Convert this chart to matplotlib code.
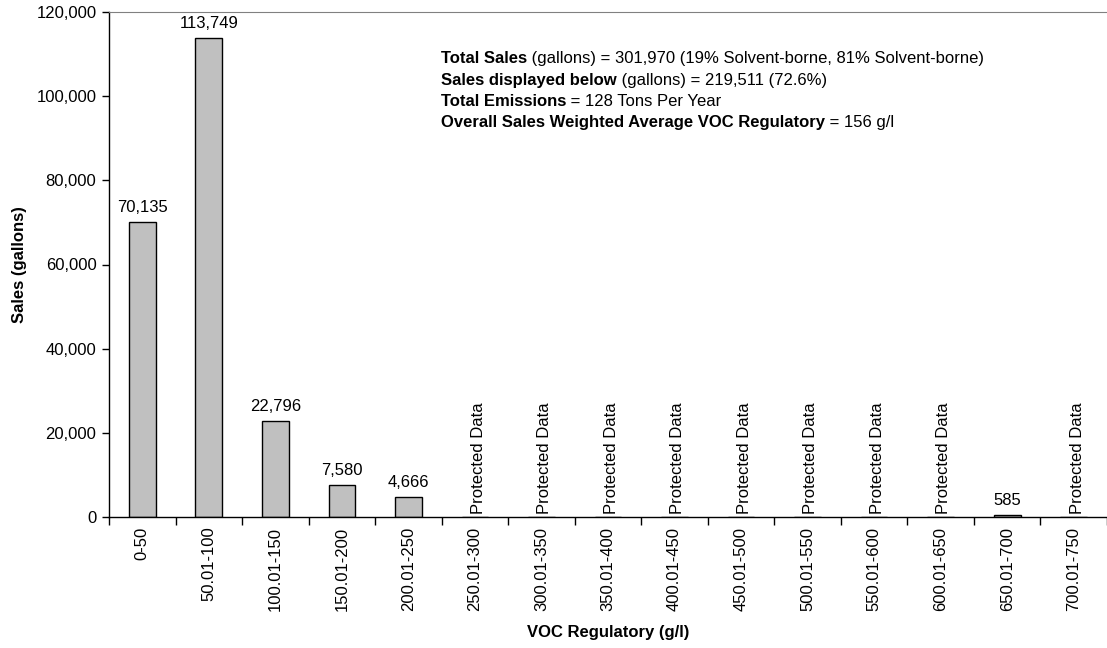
import matplotlib
matplotlib.use("Agg")
import matplotlib.pyplot as plt
from matplotlib.ticker import FuncFormatter, MultipleLocator
import numpy as np

plt.rcParams['font.family'] = ['Liberation Sans', 'DejaVu Sans']

categories = ["0-50", "50.01-100", "100.01-150", "150.01-200", "200.01-250",
              "250.01-300", "300.01-350", "350.01-400", "400.01-450", "450.01-500",
              "500.01-550", "550.01-600", "600.01-650", "650.01-700", "700.01-750"]
# None marks categories whose sales are withheld
sales = [70135, 113749, 22796, 7580, 4666,
         None, None, None, None, None,
         None, None, None, 585, None]

summary_lines = [
    ("Total Sales", " (gallons) = 301,970 (19% Solvent-borne, 81% Solvent-borne)"),
    ("Sales displayed below", " (gallons) = 219,511 (72.6%)"),
    ("Total Emissions", " = 128 Tons Per Year"),
    ("Overall Sales Weighted Average VOC Regulatory", " = 156 g/l"),
]

FS = 12

fig = plt.figure(figsize=(11.07, 6.48), dpi=100)
ax = fig.add_axes([109 / 1107, 1 - 517 / 648, 1 - 109 / 1107, 505 / 648])

x = np.arange(len(categories))
heights = [v if v is not None else 0 for v in sales]
ax.bar(x, heights, width=0.4, color="#c0c0c0", edgecolor="black", linewidth=1.0, zorder=2)

for xi, v in zip(x, sales):
    if v is None:
        ax.text(xi + 0.05, 700, "Protected Data", rotation=90, ha="center", va="bottom",
                fontsize=FS)
    else:
        ax.annotate(f"{v:,}", xy=(xi, v), xytext=(0, 5), textcoords="offset points",
                    ha="center", va="bottom", fontsize=FS)

ax.set_xlim(-0.5, len(categories) - 0.5)
ax.set_ylim(0, 120000)
ax.yaxis.set_major_locator(MultipleLocator(20000))
ax.yaxis.set_major_formatter(FuncFormatter(lambda v, p: f"{int(v):,}"))

ax.set_xticks(np.arange(-0.5, len(categories), 1.0))
ax.set_xticklabels([])
ax.set_xticks(x, minor=True)
ax.set_xticklabels(categories, minor=True, rotation=90, fontsize=FS)
ax.tick_params(axis="x", which="minor", length=0, pad=7)
ax.tick_params(axis="x", which="major", length=6, width=1, direction="out")
ax.tick_params(axis="y", length=5, width=1, direction="out", labelsize=FS, pad=4)

ax.spines["right"].set_visible(False)
ax.spines["top"].set_color("#808080")
ax.spines["left"].set_linewidth(1.0)
ax.spines["bottom"].set_linewidth(1.0)

ax.set_ylabel("Sales (gallons)", fontweight="bold", fontsize=FS, labelpad=7)
ax.set_xlabel("VOC Regulatory (g/l)", fontweight="bold", fontsize=FS, labelpad=10)

# Summary block: bold lead-in followed by normal text on each line
y0 = 58.5
for i, (bold, rest) in enumerate(summary_lines):
    ypix = y0 + i * 21.5
    t = fig.text(441 / 1107, 1 - ypix / 648, bold, fontweight="bold", fontsize=FS,
                 ha="left", va="center")
    ax.annotate(rest, xy=(1, 0.5), xycoords=t, ha="left", va="center", fontsize=FS,
                annotation_clip=False)

fig.savefig("out.png", dpi=100)
